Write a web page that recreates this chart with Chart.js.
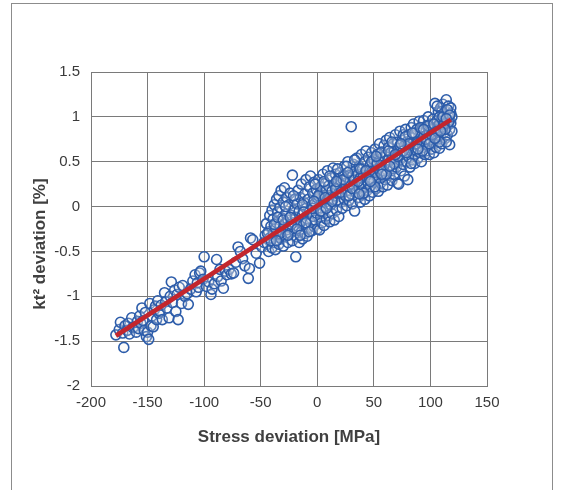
<!DOCTYPE html>
<html>
<head>
<meta charset="utf-8">
<script src="https://cdn.jsdelivr.net/npm/chart.js@4.4.1/dist/chart.umd.min.js"></script>
<style>
  html, body { margin: 0; padding: 0; background: #fff; }
  #wrap { position: relative; width: 563px; height: 490px; overflow: hidden; }
  #frame { position: absolute; left: 11px; top: 3px; width: 540px; height: 500px; border: 1px solid #8c8c8c; }
  #box { position: absolute; left: 0; top: 0; width: 563px; height: 490px; }
</style>
</head>
<body>
<div id="wrap">
  <div id="frame"></div>
  <div id="box"><canvas id="kChart"></canvas></div>
</div>
<script>
// Measured points: stress deviation [MPa] vs kt² deviation [%]
const stressX = [
  -178, -175, -174, -172, -171, -170, -168, -167, -166, -164, -163, -162, -160, -159, -158, -157, -156, -155, -154, -153, -152, -151, -150, -149, -148, -147, -146, -145, -144, -143, -142, -141, -140,
  -139, -138, -137, -135, -134, -133, -131, -130, -129, -128, -126, -125, -124, -123, -122, -120, -119, -117, -115, -114, -112, -110, -108, -107, -106, -105, -104, -103, -101,
  -100, -98, -96, -94, -93, -91, -89, -88, -86, -85, -83, -81, -80, -78, -76, -74, -72, -70, -68, -66, -64, -61, -60, -59, -57, -54, -51, -49, -47, -46,
  -45, -44, -43, -43, -42, -42, -41, -40, -40, -39, -39, -38, -38, -37, -37, -36, -36, -35, -35, -34, -34, -33, -33, -32, -32, -31, -31, -30, -30, -29, -29, -28, -28, -27, -27, -26, -26, -25, -25, -24, -24, -23, -22, -22, -21, -21, -20, -20,
  -19, -19, -18, -18, -17, -17, -16, -16, -15, -15, -14, -14, -13, -13, -12, -12, -11, -11, -10, -10, -9, -9, -8, -8, -7, -7, -6, -6, -5, -5, -4, -4, -3, -3, -2, -2, -1, -1, 0, 0,
  1, 1, 2, 2, 3, 3, 4, 4, 5, 5, 6, 6, 7, 7, 8, 8, 9, 9, 10, 10, 11, 11, 12, 12, 13, 13, 14, 14, 15, 15, 16, 16, 17, 17, 18, 18, 19, 19, 20, 20,
  21, 21, 22, 22, 23, 23, 24, 24, 25, 25, 26, 26, 27, 27, 28, 28, 29, 29, 30, 30, 31, 31, 32, 32, 33, 33, 34, 34, 35, 35, 36, 36, 37, 37, 38, 38, 39, 39, 40, 40, 41, 41,
  42, 42, 43, 43, 44, 44, 45, 45, 46, 46, 47, 47, 48, 48, 49, 49, 50, 50, 51, 51, 52, 52, 53, 53, 54, 54, 55, 55, 56, 56, 57, 57, 58, 58, 59, 59, 60, 60, 61, 61, 62, 62,
  63, 63, 64, 64, 65, 65, 66, 66, 67, 67, 68, 68, 69, 69, 70, 70, 71, 71, 72, 72, 73, 73, 74, 74, 75, 75, 76, 76, 77, 77, 78, 78, 79, 79, 80, 80, 81, 81, 82, 82, 83, 83,
  84, 84, 85, 85, 86, 86, 87, 87, 88, 88, 89, 89, 90, 90, 91, 91, 92, 92, 93, 93, 94, 94, 95, 95, 96, 96, 97, 97, 98, 98, 99, 99, 100, 100, 101, 101, 102, 102, 103, 103, 104, 104, 105, 105,
  106, 106, 107, 107, 108, 108, 109, 109, 110, 110, 111, 111, 112, 112, 113, 113, 114, 114, 115, 115, 116, 116, 117, 117, 117, 118, 118, 118, 119, 119, 110, 114, 116, 108, 112, 106,
  -44, -41, -38, -35, -33, -30, -28, -26, -23, -21, -18, -15, -13, -10, -7, -4, -2, 1, 3, 6,
  8, 11, 13, 16, 18, 21, 23, 26, 28, 31, 33, 36, 38, 41, 43, 46, 48, 51, 53, 56,
  58, 61, 63, 66, 68, 71, 73, 76, 78, 81, 83, 86, 88, 91, 93, 96, 98, 101, 103, 106,
  108, 111, 113, 115, 117, 64, 69, 74, 79, 84, 89, 94, 99, 104, 109, 114,
  57, 52, 47, 37, 27, 17, 7, -3, -12, -24, -36
];
const ktDev = [
  -1.43, -1.37, -1.29, -1.41, -1.57, -1.33, -1.38, -1.30, -1.42, -1.24, -1.35, -1.34, -1.40, -1.28, -1.36, -1.22, -1.30, -1.13, -1.27, -1.38, -1.18, -1.45, -1.40, -1.48, -1.08, -1.33, -1.22, -1.34, -1.15, -1.11, -1.26, -1.05, -1.19,
  -1.17, -1.10, -1.26, -0.96, -1.06, -1.13, -1.24, -1.00, -0.84, -1.07, -0.93, -1.17, -0.98, -1.26, -0.90, -1.08, -0.88, -1.00, -0.97, -1.09, -0.92, -0.83, -0.76, -0.95, -0.85, -0.90, -0.74, -0.72, -0.81,
  -0.56, -0.89, -0.84, -0.98, -0.92, -0.86, -0.59, -0.78, -0.70, -0.83, -0.91, -0.72, -0.76, -0.70, -0.75, -0.74, -0.62, -0.45, -0.50, -0.58, -0.66, -0.80, -0.69, -0.35, -0.37, -0.52, -0.63, -0.45, -0.40, -0.32,
  -0.19, -0.42, -0.28, -0.50, -0.10, -0.35, -0.22, -0.04, -0.46, -0.30, -0.14, -0.40, 0.02, -0.25, -0.48, -0.18, 0.08, -0.33, -0.06, -0.42, 0.12, -0.22, -0.01, -0.36, 0.18, -0.13, -0.28, 0.05, -0.44, -0.20, 0.21, -0.08, -0.33, 0.10, -0.26, -0.15, -0.40, 0.02, -0.22, -0.30, 0.15, -0.10, 0.35, -0.38, -0.04, -0.18, -0.27, 0.08,
  -0.56, -0.12, 0.03, -0.34, -0.22, 0.18, -0.05, -0.40, -0.16, 0.10, -0.28, 0.25, -0.09, -0.36, 0.05, -0.20, 0.14, -0.30, -0.02, 0.30, -0.33, -0.14, 0.08, -0.24, 0.22, -0.06, -0.18, 0.34, -0.27, 0.01, 0.15, -0.11, -0.22, 0.27, 0.04, -0.15, 0.19, -0.07, -0.25, 0.10,
  -0.03, 0.30, -0.26, 0.14, -0.12, 0.22, 0.05, -0.18, 0.36, -0.06, 0.12, -0.21, 0.26, 0.00, -0.14, 0.18, 0.40, 0.06, -0.10, 0.23, 0.10, -0.17, 0.32, 0.02, 0.17, -0.08, 0.43, 0.08, -0.15, 0.25, 0.12, 0.36, -0.04, 0.20, 0.06, 0.30, -0.11, 0.15, 0.38, 0.24,
  0.05, 0.29, 0.14, -0.02, 0.35, 0.20, 0.08, 0.45, 0.26, 0.12, 0.01, 0.33, 0.18, 0.50, 0.22, 0.07, 0.40, 0.28, 0.89, 0.14, 0.34, 0.03, 0.24, 0.47, -0.05, 0.30, 0.16, 0.40, 0.26, 0.54, 0.10, 0.36, 0.21, 0.45, 0.32, 0.05, 0.58, 0.27, 0.13, 0.42, 0.35, 0.22,
  0.50, 0.08, 0.30, 0.62, 0.18, 0.40, 0.26, 0.55, 0.12, 0.36, 0.47, 0.22, 0.60, 0.31, 0.40, 0.16, 0.52, 0.28, 0.64, 0.38, 0.20, 0.46, 0.33, 0.58, 0.17, 0.42, 0.70, 0.51, 0.26, 0.38, 0.61, 0.45, 0.22, 0.55, 0.34, 0.68, 0.47, 0.30, 0.58, 0.74, 0.40, 0.24,
  0.52, 0.66, 0.35, 0.77, 0.46, 0.60, 0.29, 0.54, 0.70, 0.42, 0.62, 0.36, 0.80, 0.50, 0.58, 0.44, 0.26, 0.72, 0.65, 0.25, 0.52, 0.84, 0.40, 0.62, 0.74, 0.55, 0.47, 0.80, 0.68, 0.34, 0.60, 0.86, 0.50, 0.72, 0.30, 0.64, 0.80, 0.55, 0.44, 0.70, 0.88, 0.62,
  0.52, 0.76, 0.66, 0.92, 0.58, 0.48, 0.80, 0.70, 0.62, 0.86, 0.54, 0.74, 0.95, 0.68, 0.60, 0.82, 0.73, 0.50, 0.88, 0.66, 0.78, 0.96, 0.58, 0.70, 0.84, 0.62, 0.90, 0.76, 0.68, 1.00, 0.82, 0.58, 0.74, 0.92, 0.64, 0.86, 0.78, 0.97, 0.70, 0.60, 1.15, 0.88, 0.80, 0.66,
  0.96, 0.74, 1.06, 0.86, 0.65, 0.92, 0.78, 1.10, 0.98, 0.70, 0.88, 1.14, 0.82, 1.02, 0.94, 0.76, 1.19, 1.06, 0.90, 0.80, 1.00, 1.12, 0.69, 0.86, 0.96, 1.04, 0.93, 1.10, 0.84, 1.00, 1.06, 0.72, 0.94, 1.00, 0.92, 1.12,
  -0.30, -0.38, -0.20, -0.12, -0.30, -0.15, 0.00, -0.32, -0.20, 0.12, -0.25, -0.32, 0.02, -0.18, -0.28, -0.02, 0.25, 0.12, -0.05, 0.28,
  -0.02, 0.34, 0.06, 0.20, 0.42, 0.16, 0.30, 0.45, 0.12, 0.20, 0.52, 0.28, 0.42, 0.15, 0.40, 0.30, 0.50, 0.22, 0.48, 0.60,
  0.40, 0.36, 0.62, 0.72, 0.48, 0.56, 0.68, 0.62, 0.78, 0.70, 0.48, 0.82, 0.70, 0.88, 0.62, 0.75, 0.90, 0.80, 0.92, 0.84,
  0.72, 1.00, 0.86, 1.08, 1.02, 0.45, 0.58, 0.70, 0.60, 0.82, 0.64, 0.86, 0.70, 0.76, 0.84, 0.98,
  0.36, 0.56, 0.28, 0.14, 0.38, 0.28, 0.10, 0.06, -0.06, -0.12, -0.38
];

// Linear fit end points
const fitX = [-178, 118];
const fitY = [-1.44, 0.97];

const xTicks = [-200, -150, -100, -50, 0, 50, 100, 150];
const yTicks = [-2, -1.5, -1, -0.5, 0, 0.5, 1, 1.5];

const xTitle = "Stress deviation [MPa]";
const yTitle = "kt² deviation [%]";

const points = stressX.map((x, i) => ({ x: x, y: ktDev[i] }));
const fitLine = fitX.map((x, i) => ({ x: x, y: fitY[i] }));

const gridColor = "#7a7a7a";
const fontFamily = "'Liberation Sans', Arial, sans-serif";
const tickFont = { family: fontFamily, size: 15 };
const titleFont = { family: fontFamily, size: 17, weight: "bold" };

// y title is centred a bit lower than the plot area, so draw it by hand
const yTitlePlugin = {
    id: "yTitle",
    afterDraw(chart) {
        const c = chart.ctx;
        c.save();
        c.translate(40, 244);
        c.rotate(-Math.PI / 2);
        c.font = "bold 17px " + fontFamily;
        c.fillStyle = "#404040";
        c.textAlign = "center";
        c.textBaseline = "middle";
        c.fillText(yTitle, 0, 0);
        c.restore();
    },
};

const ctx = document.getElementById("kChart").getContext("2d");
const kChart = new Chart(ctx, {
    type: "scatter",
    data: {
        datasets: [
            {
                label: "fit",
                data: fitLine,
                showLine: true,
                borderColor: "#c3262d",
                borderWidth: 4.5,
                pointRadius: 0,
                order: 0,
            },
            {
                label: "data",
                data: points,
                pointRadius: 5,
                pointBorderWidth: 1.6,
                borderColor: "#2c5caa",
                backgroundColor: "rgba(235, 235, 235, 0.25)",
                order: 1,
            },
        ],
    },
    plugins: [yTitlePlugin],
    options: {
        responsive: true,
        maintainAspectRatio: false,
        animation: false,
        events: [],
        layout: { padding: { left: 0, top: 72, right: 76, bottom: 0 } },
        plugins: {
            legend: { display: false },
            tooltip: { enabled: false },
        },
        scales: {
            x: {
                type: "linear",
                min: -200,
                max: 150,
                afterBuildTicks: (s) => { s.ticks = xTicks.map((v) => ({ value: v })); },
                afterFit: (s) => { s.height = 104; },
                grid: { color: gridColor, drawTicks: false },
                border: { color: gridColor },
                ticks: { color: "#3a3a3a", font: tickFont, padding: 8, callback: (v) => String(v) },
                title: {
                    display: true,
                    text: xTitle,
                    color: "#404040",
                    font: titleFont,
                    padding: { top: 0, bottom: 42 },
                },
            },
            y: {
                type: "linear",
                min: -2,
                max: 1.5,
                afterBuildTicks: (s) => { s.ticks = yTicks.map((v) => ({ value: v })); },
                afterFit: (s) => { s.width = 91; },
                grid: { color: gridColor, drawTicks: false },
                border: { color: gridColor },
                ticks: { color: "#3a3a3a", font: tickFont, padding: 11, callback: (v) => String(v) },
            },
        },
    },
});
</script>
</body>
</html>
